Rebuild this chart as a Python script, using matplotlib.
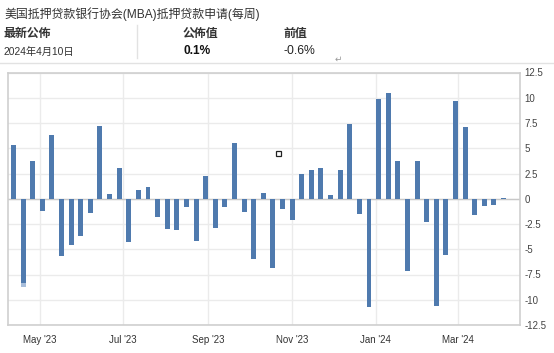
import datetime as dt
import matplotlib
matplotlib.use("Agg")
import matplotlib.pyplot as plt
import matplotlib.dates as mdates
from matplotlib.patches import Rectangle

plt.rcParams['font.family'] = ['Liberation Sans', 'Noto Sans CJK SC', 'DejaVu Sans']

# weekly MBA mortgage applications, % change (release dates, Wednesdays)
start = dt.date(2023, 4, 12)
values = [5.3, -8.3, 3.7, -1.2, 6.3, -5.7, -4.6, -3.7, -1.4, 7.2,
          0.5, 3.0, -4.3, 0.9, 1.2, -1.8, -3.0, -3.1, -0.8, -4.2,
          2.3, -2.9, -0.8, 5.5, -1.3, -6.0, 0.6, -6.9, -1.0, -2.1,
          2.5, 2.8, 3.0, 0.4, 2.8, 7.4, -1.5, -10.7, 9.9, 10.5,
          3.7, -7.2, 3.7, -2.3, -10.6, -5.6, 9.7, 7.1, -1.6, -0.7,
          -0.6, 0.1]
dates = [start + dt.timedelta(weeks=i) for i in range(len(values))]
hover_tail = -0.45  # lighter tip under the 2nd bar

y_ticks = [12.5, 10, 7.5, 5, 2.5, 0, -2.5, -5, -7.5, -10, -12.5]
y_labels = ["12.5", "10", "7.5", "5", "2.5", "0", "-2.5", "-5", "-7.5", "-10", "-12.5"]
x_ticks = [dt.date(2023, 5, 1), dt.date(2023, 7, 1), dt.date(2023, 9, 1),
           dt.date(2023, 11, 1), dt.date(2024, 1, 1), dt.date(2024, 3, 1)]
x_labels = ["May '23", "Jul '23", "Sep '23", "Nov '23", "Jan '24", "Mar '24"]

title = "美国抵押贷款银行协会(MBA)抵押贷款申请(每周)"
latest_label, latest_date = "最新公佈", "2024年4月10日"
actual_label, actual_value = "公佈值", "0.1%"
prev_label, prev_value = "前值", "-0.6%"

bar_color = "#4f7aae"
W, H = 554, 353
fig = plt.figure(figsize=(W / 100, H / 100), dpi=100)

# header
def fx(px):
    return px / W

def fy(py):
    return 1 - py / H

fig.text(fx(4), fy(14), title, fontsize=8.6, color="#333333", va="center", ha="left")
fig.text(fx(4), fy(34), latest_label, fontsize=8.6, color="#333333", va="center", weight="bold")
fig.text(fx(4), fy(52), latest_date, fontsize=7.4, color="#333333", va="center")
fig.text(fx(183), fy(34), actual_label, fontsize=8.6, color="#333333", va="center", weight="bold")
fig.text(fx(183), fy(51.5), actual_value, fontsize=8.6, color="#111111", va="center", weight="bold")
fig.text(fx(283), fy(34), prev_label, fontsize=8.6, color="#333333", va="center", weight="bold")
fig.text(fx(283), fy(51.5), prev_value, fontsize=8.8, color="#222222", va="center")
fig.text(fx(335), fy(59), "↵", fontsize=6.5, color="#999999", va="center",
         family=['DejaVu Sans'])
fig.add_artist(plt.Line2D([0, 1], [fy(63), fy(63)], color="#e2e2e2", lw=1))
fig.add_artist(plt.Line2D([fx(137), fx(137)], [fy(25), fy(58)], color="#e2e2e2", lw=1))

# chart
ax = fig.add_axes([8 / W, 1 - 325 / H, 512 / W, 252.5 / H])
ax.bar(dates, values, width=3.6, color=bar_color, zorder=3)
ax.bar(dates[1], hover_tail, bottom=values[1], width=3.6, color="#a8bedb", zorder=3)
ax.axhline(0, color="#c8c8c8", lw=1, zorder=2)

ax.set_ylim(-12.5, 12.5)
ax.set_xlim(dt.date(2023, 4, 8), dt.date(2024, 4, 15))
ax.yaxis.tick_right()
ax.set_yticks(y_ticks)
ax.set_yticklabels(y_labels)
ax.set_xticks(x_ticks)
ax.set_xticklabels(x_labels)
ax.tick_params(axis="y", length=0, pad=3, labelsize=7, labelcolor="#444444")
ax.tick_params(axis="x", length=0, pad=7, labelsize=7, labelcolor="#333333")
ax.grid(True, color="#ebebeb", lw=1, zorder=0)
for s in ax.spines.values():
    s.set_color("#cfcfcf")
    s.set_linewidth(1.2)

# white patch over the lower-left grid (as in the screenshot)
ax.add_patch(Rectangle((0.0, 0.013), 0.258, 0.12, transform=ax.transAxes,
                       facecolor="white", edgecolor="none", zorder=1))

# small cursor box
fig.add_artist(Rectangle((fx(275.5), fy(156)), 5 / W, 5 / H, facecolor="white",
                         edgecolor="#222222", lw=0.9))

fig.savefig("out.png", dpi=100)
